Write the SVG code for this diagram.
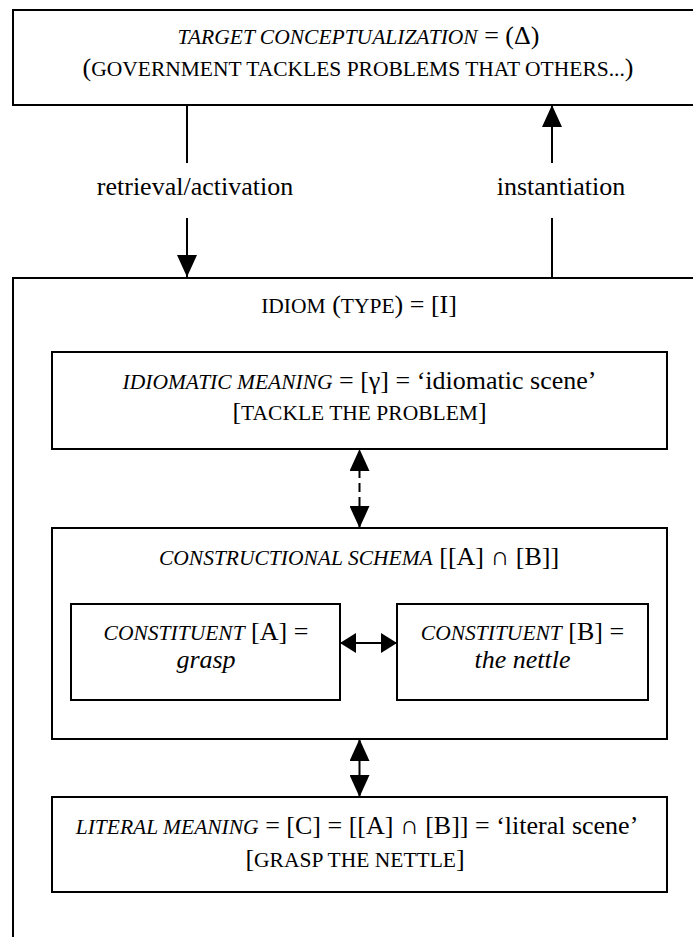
<svg xmlns="http://www.w3.org/2000/svg" width="693" height="937" viewBox="0 0 693 937">
  <style>
    .box { fill: #fff; stroke: #000; stroke-width: 2; }
    .t { font-family: "Liberation Serif", "Times New Roman", serif; font-size: 26px; fill: #000; text-anchor: middle; }
    .sc { font-size: 21.5px; }
    .i { font-style: italic; }
    .link { stroke: #000; stroke-width: 2; fill: none; }
  </style>
  <defs>
    <marker id="head" viewBox="0 0 22 20" refX="22" refY="10" markerWidth="22" markerHeight="20" markerUnits="userSpaceOnUse" orient="auto-start-reverse">
      <path d="M0,0 L22,10 L0,20 z" fill="#000"/>
    </marker>
    <marker id="headS" viewBox="0 0 16 20" refX="16" refY="10" markerWidth="16" markerHeight="20" markerUnits="userSpaceOnUse" orient="auto-start-reverse">
      <path d="M0,0 L16,10 L0,20 z" fill="#000"/>
    </marker>
  </defs>

  <rect width="693" height="937" fill="#fff"/>

  <!-- target conceptualization -->
  <g id="target">
    <rect class="box" x="13" y="10" width="700" height="95"/>
    <text class="t" x="358.5" y="44"><tspan class="sc i">TARGET CONCEPTUALIZATION</tspan> = (Δ)</text>
    <text class="t" x="358" y="76">(<tspan class="sc">GOVERNMENT TACKLES PROBLEMS THAT OTHERS...</tspan>)</text>
  </g>

  <!-- idiom type (outer frame) -->
  <g id="idiom">
    <rect class="box" x="13" y="278" width="700" height="700"/>
    <text class="t" x="359" y="313"><tspan class="sc">IDIOM</tspan> (<tspan class="sc">TYPE</tspan>) = [I]</text>
  </g>

  <g id="idiomatic-meaning">
    <rect class="box" x="52" y="352" width="615" height="97"/>
    <text class="t" x="359.5" y="389"><tspan class="sc i">IDIOMATIC MEANING</tspan> = [γ] = ‘idiomatic scene’</text>
    <text class="t" x="359.5" y="420">[<tspan class="sc">TACKLE THE PROBLEM</tspan>]</text>
  </g>

  <g id="constructional-schema">
    <rect class="box" x="52" y="528" width="615" height="211"/>
    <text class="t" x="359" y="565"><tspan class="sc i">CONSTRUCTIONAL SCHEMA</tspan> [[A] ∩ [B]]</text>
  </g>

  <g id="constituent-a">
    <rect class="box" x="71" y="604" width="269" height="96"/>
    <text class="t" x="206" y="640"><tspan class="sc i">CONSTITUENT</tspan> [A] =</text>
    <text class="t i" x="206" y="668">grasp</text>
  </g>

  <g id="constituent-b">
    <rect class="box" x="397" y="604" width="251" height="96"/>
    <text class="t" x="522.5" y="640"><tspan class="sc i">CONSTITUENT</tspan> [B] =</text>
    <text class="t i" x="522.5" y="668">the nettle</text>
  </g>

  <g id="literal-meaning">
    <rect class="box" x="52" y="797" width="615" height="95"/>
    <text class="t" x="357" y="834"><tspan class="sc i">LITERAL MEANING</tspan> = [C] = [[A] ∩ [B]] = ‘literal scene’</text>
    <text class="t" x="355" y="867">[<tspan class="sc">GRASP THE NETTLE</tspan>]</text>
  </g>

  <!-- connectors -->
  <g id="connectors">
    <path class="link" d="M187,105 V163"/>
    <path class="link" d="M187,218 V277" marker-end="url(#head)"/>
    <text class="t" x="195" y="195">retrieval/activation</text>

    <path class="link" d="M552,278 V218"/>
    <path class="link" d="M552,163 V105" marker-end="url(#head)"/>
    <text class="t" x="561" y="195">instantiation</text>

    <path class="link" d="M359.5,449 V528" stroke-dasharray="9 5" stroke-dashoffset="8" marker-start="url(#head)" marker-end="url(#head)"/>
    <path class="link" d="M340,643 H397" stroke-width="3" marker-start="url(#headS)" marker-end="url(#headS)"/>
    <path class="link" d="M359.5,739 V797" stroke-width="2.5" marker-start="url(#head)" marker-end="url(#head)"/>
  </g>
</svg>
